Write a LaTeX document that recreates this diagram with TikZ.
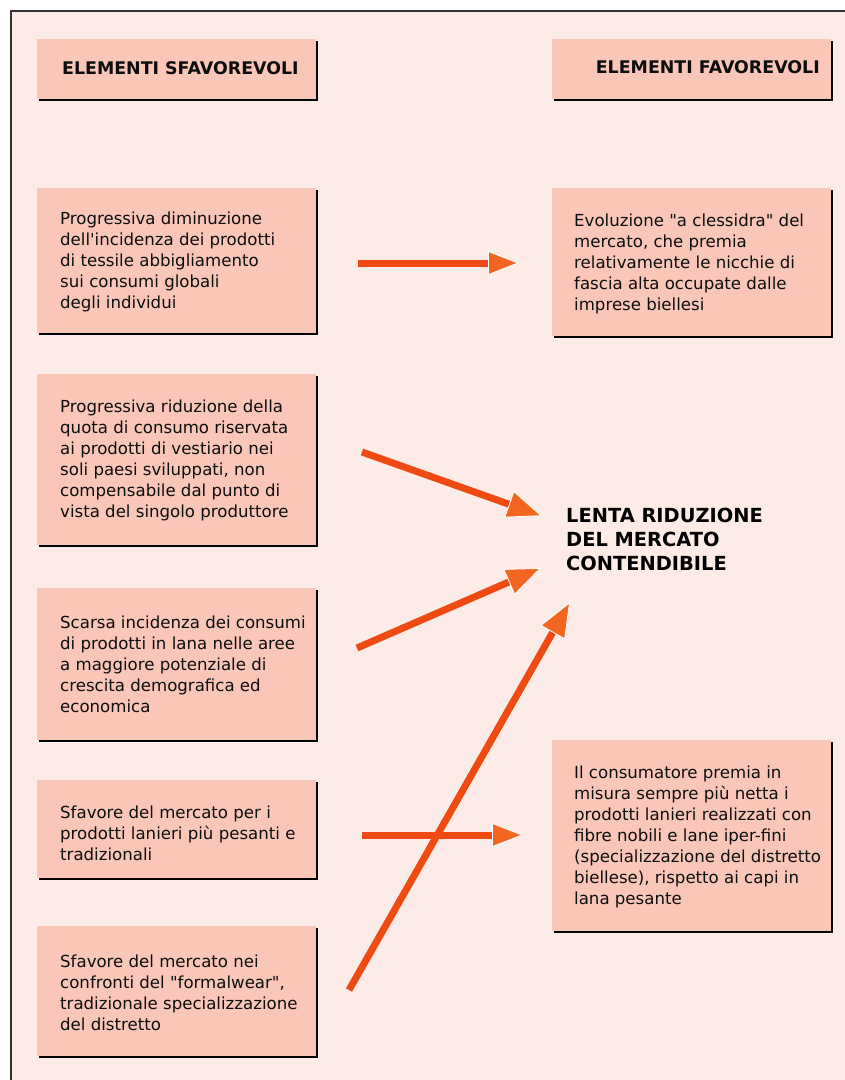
\documentclass[tikz,border=0pt]{standalone}
\usepackage{fontspec}
\setmainfont{DejaVu Sans}
\usetikzlibrary{arrows.meta,shadows}
\definecolor{bgpink}{RGB}{253,235,231}
\definecolor{boxfill}{RGB}{249,198,183}
\definecolor{arrline}{RGB}{238,74,18}
\definecolor{arrtip}{RGB}{243,102,34}
\definecolor{framec}{RGB}{55,50,50}
\tikzset{
  box/.style={rectangle, fill=boxfill, inner sep=0pt, minimum width=279pt,
    drop shadow={shadow xshift=2.3pt, shadow yshift=-2.3pt, fill=black, opacity=1}},
  txt/.style={inner sep=0pt, align=left, anchor=west, text=black!95,
    font=\fontsize{16.6}{21}\selectfont},
  head/.style={inner sep=0pt, text=black!95, font=\fontsize{17.4}{20}\selectfont\bfseries},
  ctext/.style={inner sep=0pt, align=left, anchor=north west, text=black,
    font=\fontsize{19.4}{24}\selectfont\bfseries},
  arrh/.style={draw=arrline, line width=7pt,
    -{Triangle[length=31pt,width=24pt,fill=arrtip,color=white,line width=0.8pt]}},
  arrd/.style={draw=arrline, line width=7pt,
    -{Triangle[length=35pt,width=28pt,fill=arrtip,color=white,line width=0.8pt]}}
}
\begin{document}
\begin{tikzpicture}[x=1pt,y=-1pt]
\useasboundingbox (0,0) rectangle (845,1080);
\fill[white] (0,0) rectangle (845,1080);
\fill[bgpink] (11,11) rectangle (845,1080);
\draw[framec, line width=1.4pt] (11,1080) -- (11,11) -- (845,11);

% headers
\node[box, minimum height=60pt] (HL) at (176.5,69) {};
\node[box, minimum height=60pt] (HR) at (691.5,69) {};
\node[head, anchor=base west] (tHL) at (62,74) {ELEMENTI SFAVOREVOLI};
\node[head, anchor=base east] (tHR) at (820,73.5) {ELEMENTI FAVOREVOLI};

% left boxes
\node[box, minimum height=145pt] (L1) at (176.5,260.5) {};
\node[box, minimum height=171pt] (L2) at (176.5,459.5) {};
\node[box, minimum height=152pt] (L3) at (176.5,664) {};
\node[box, minimum height=98pt]  (L4) at (176.5,829) {};
\node[box, minimum height=130pt] (L5) at (176.5,991) {};

% right boxes
\node[box, minimum height=148pt] (R1) at (691.5,262) {};
\node[box, minimum height=191pt] (R2) at (691.5,835.5) {};

% texts
\node[txt] (tL1) at (60,261.5) {Progressiva diminuzione\\dell\textquotesingle incidenza dei prodotti\\di tessile abbigliamento\\sui consumi globali\\degli individui};
\node[txt] (tL2) at (60,460) {Progressiva riduzione della\\quota di consumo riservata\\ai prodotti di vestiario nei\\soli paesi sviluppati, non\\compensabile dal punto di\\vista del singolo produttore};
\node[txt] (tL3) at (60,664.5) {Scarsa incidenza dei consumi\\di prodotti in lana nelle aree\\a maggiore potenziale di\\crescita demografica ed\\economica};
\node[txt] (tL4) at (60,833) {Sfavore del mercato per i\\prodotti lanieri più pesanti e\\tradizionali};
\node[txt] (tL5) at (60,993) {Sfavore del mercato nei\\confronti del \textquotedbl formalwear\textquotedbl,\\tradizionale specializzazione\\del distretto};
\node[txt] (tR1) at (574,264) {Evoluzione \textquotedbl a clessidra\textquotedbl{} del\\mercato, che premia\\relativamente le nicchie di\\fascia alta occupate dalle\\imprese biellesi};
\node[txt] (tR2) at (574,837) {Il consumatore premia in\\misura sempre più netta i\\prodotti lanieri realizzati con\\fibre nobili e lane iper-fini\\(specializzazione del distretto\\biellese), rispetto ai capi in\\lana pesante};

% centre
\node[ctext] (C) at (566,508.3) {LENTA RIDUZIONE\\DEL MERCATO\\CONTENDIBILE};

% arrow endpoints
\coordinate (a1s) at (358,263);
\coordinate (a1e) at (519,263);
\coordinate (a2s) at (362,452);
\coordinate (a2e) at (542,516);
\coordinate (a3s) at (357,648);
\coordinate (a3e) at (541,568);
\coordinate (a4s) at (349,990);
\coordinate (a4e) at (570,602);
\coordinate (a5s) at (362,835);
\coordinate (a5e) at (523,835);

\draw[arrh] (a1s) -- (a1e);
\draw[arrd] (a2s) -- (a2e);
\draw[arrd] (a3s) -- (a3e);
\draw[arrd] (a4s) -- (a4e);
\draw[arrh] (a5s) -- (a5e);
\end{tikzpicture}
\end{document}
